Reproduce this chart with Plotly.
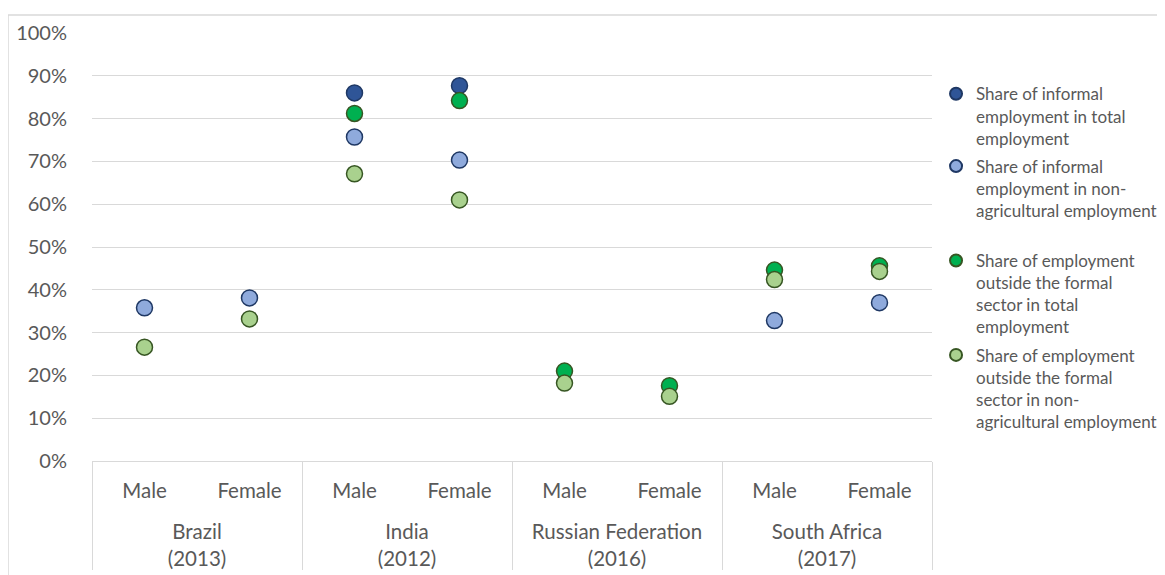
import plotly.graph_objects as go

countries = [" <br>Brazil<br>(2013)", " <br>Brazil<br>(2013)", " <br>India<br>(2012)", " <br>India<br>(2012)",
             " <br>Russian Federation<br>(2016)", " <br>Russian Federation<br>(2016)",
             " <br>South Africa<br>(2017)", " <br>South Africa<br>(2017)"]
genders = ["Male", "Female"] * 4

series_names = [
    "Share of informal<br>employment in total<br>employment",
    "Share of informal<br>employment in non-<br>agricultural employment<br> ",
    "Share of employment<br>outside the formal<br>sector in total<br>employment",
    "Share of employment<br>outside the formal<br>sector in non-<br>agricultural employment",
]
informal_total = [None, None, 0.860, 0.877, None, None, None, None]
informal_nonagri = [0.358, 0.381, 0.757, 0.703, None, None, 0.328, 0.370]
outside_total = [None, None, 0.812, 0.842, 0.210, 0.176, 0.446, 0.456]
outside_nonagri = [0.266, 0.332, 0.671, 0.610, 0.182, 0.151, 0.424, 0.443]

series_values = [informal_total, informal_nonagri, outside_total, outside_nonagri]
fills = ["#2F5597", "#8FAADC", "#00B050", "#A9D18E"]
outlines = ["#1F3864", "#1F3864", "#375623", "#375623"]

FONT = "Lato"
GRAY = "#595959"
GRID = "#D9D9D9"

fig = go.Figure()
for i, (name, vals) in enumerate(zip(series_names, series_values)):
    fig.add_trace(go.Scatter(
        x=[countries, genders], y=vals, mode="markers", name=name,
        legendgroup=f"g{i}",
        marker=dict(size=16, color=fills[i], line=dict(color=outlines[i], width=1.5)),
    ))

fig.update_layout(
    width=1157, height=567,
    margin=dict(l=84, r=233, t=25, b=114, autoexpand=False),
    paper_bgcolor="white", plot_bgcolor="white",
    font=dict(family=FONT, color=GRAY, size=20),
    showlegend=True,
    legend=dict(
        x=1.0048, y=0.899, xanchor="left", yanchor="top", valign="top",
        font=dict(family=FONT, size=17, color=GRAY),
        itemsizing="constant", tracegroupgap=3, itemwidth=30,
        bgcolor="rgba(0,0,0,0)",
    ),
    xaxis=dict(
        type="multicategory", showgrid=False, showline=True, linecolor=GRID, linewidth=1,
        showdividers=True, dividercolor=GRID, dividerwidth=1,
        tickfont=dict(family=FONT, size=20.5, color=GRAY),
        ticks="", ticklabelstandoff=11,
        range=[-0.5, 7.5], automargin=False,
    ),
    yaxis=dict(
        range=[0, 1.0], dtick=0.1, tickformat=".0%", showgrid=True, gridcolor=GRID, gridwidth=1,
        zeroline=False, showline=False, ticks="", ticklabelstandoff=24,
        tickfont=dict(family=FONT, size=20, color=GRAY),
    ),
    shapes=[
        dict(type="line", xref="paper", yref="paper", x0=-0.1, x1=-0.1, y0=-0.3, y1=1.042,
             line=dict(color=GRID, width=1.5)),
        dict(type="line", xref="paper", yref="paper", x0=-0.1, x1=1.4, y0=1.042, y1=1.042,
             line=dict(color=GRID, width=1.5)),
    ],
)

fig.write_html("out.html")
